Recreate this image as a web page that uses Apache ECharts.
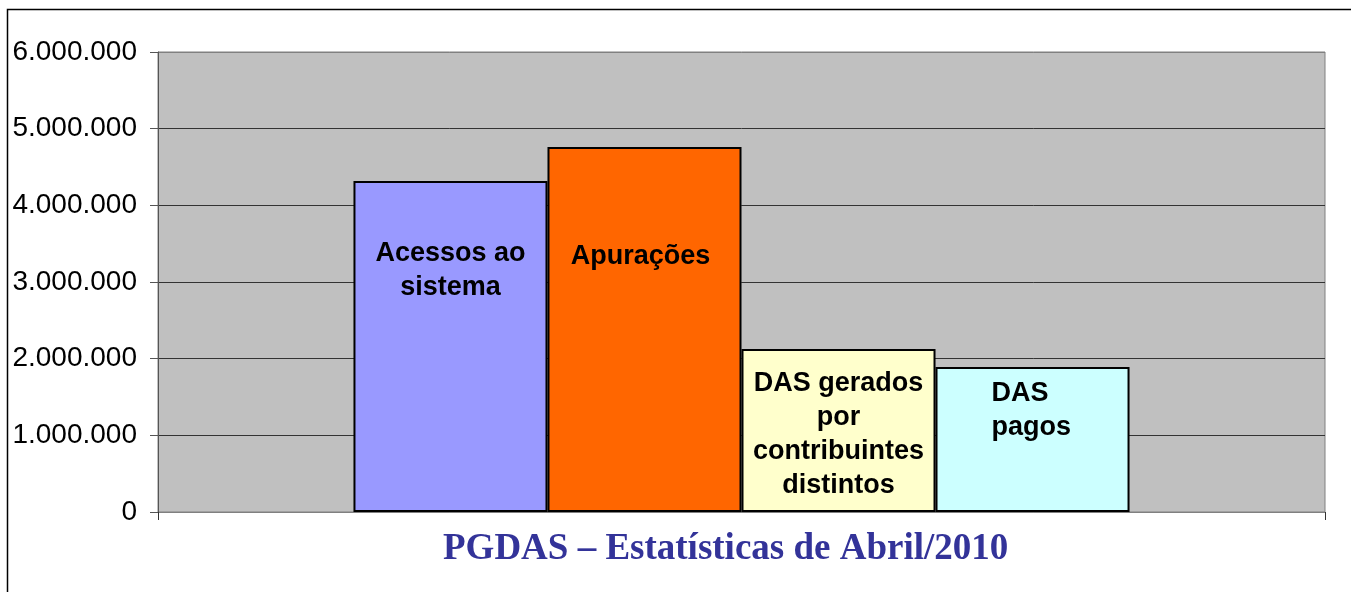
<!DOCTYPE html>
<html>
<head>
<meta charset="utf-8">
<script src="https://cdn.jsdelivr.net/npm/echarts@6/dist/echarts.min.js"></script>
<style>
  html, body { margin: 0; padding: 0; background: #fff; }
  #chart { width: 1351px; height: 592px; }
</style>
</head>
<body>
<div id="chart"></div>
<script>
// data
const categories = ['']
const seriesNames = ['Acessos ao\nsistema', 'Apurações', 'DAS gerados\npor\ncontribuintes\ndistintos', 'DAS\npagos']
const seriesValues = [4317000, 4761000, 2126000, 1891000]
const barColors = ['#9999FF', '#FF6600', '#FFFFCC', '#CCFFFF']
const titleText = 'PGDAS – Estatísticas de Abril/2010'

// where each series label sits inside its bar (px from bar top-left)
const labelPos = [['50%', 56], ['48%', 93], ['50%', 18], [56, 10]]
const labelAlign = ['center', 'center', 'center', 'left']

const chart = echarts.init(document.getElementById('chart'), null, { renderer: 'canvas' })

function fmt(v) {
  return String(v).replace(/\B(?=(\d{3})+(?!\d))/g, '.')
}

const series = seriesNames.map((name, i) => ({
  name: name,
  type: 'bar',
  data: [seriesValues[i]],
  barGap: '0%',
  barCategoryGap: '33.5%',
  itemStyle: { color: barColors[i], borderColor: '#000', borderWidth: 2 },
  label: {
    show: true,
    formatter: '{a}',
    position: labelPos[i],
    align: labelAlign[i],
    verticalAlign: 'top',
    color: '#000',
    fontFamily: 'Arial, "Liberation Sans", sans-serif',
    fontWeight: 'bold',
    fontSize: 27,
    lineHeight: 34
  },
  emphasis: { disabled: true },
  animation: false
}))

const option = {
  animation: false,
  title: {
    text: titleText,
    left: 438,
    top: 526,
    textStyle: {
      fontFamily: '"Times New Roman", "Liberation Serif", serif',
      fontWeight: 'bold',
      fontSize: 37,
      color: '#333399'
    }
  },
  graphic: [
    {
      type: 'rect',
      silent: true,
      shape: { x: 7.5, y: 9.5, width: 2000, height: 2000 },
      style: { fill: 'none', stroke: '#000', lineWidth: 1.5 }
    }
  ],
  grid: {
    left: 158,
    right: 26,
    top: 52,
    bottom: 80,
    show: true,
    backgroundColor: '#C0C0C0',
    borderColor: '#808080',
    borderWidth: 1
  },
  xAxis: {
    type: 'category',
    data: categories,
    axisLine: { lineStyle: { color: '#808080', width: 1 } },
    axisTick: { show: true, length: 8, lineStyle: { color: '#333' } },
    axisLabel: { show: false }
  },
  yAxis: {
    type: 'value',
    min: 0,
    max: 6000000,
    interval: 1000000,
    axisLine: { show: true, lineStyle: { color: '#555', width: 1 } },
    axisTick: { show: true, length: 8, lineStyle: { color: '#555' } },
    axisLabel: {
      margin: 21,
      color: '#000',
      fontFamily: 'Arial, "Liberation Sans", sans-serif',
      fontSize: 28,
      formatter: fmt
    },
    splitLine: {
      show: true,
      lineStyle: { color: ['#808080', '#333', '#333', '#333', '#333', '#333', '#808080'], width: 1 }
    }
  },
  series: series
}

chart.setOption(option)
</script>
</body>
</html>
